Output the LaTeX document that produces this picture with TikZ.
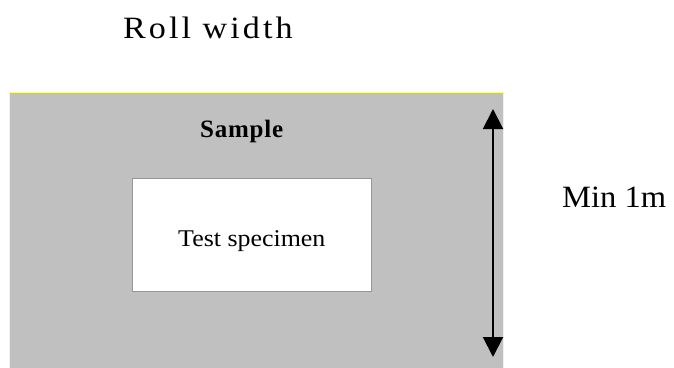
\documentclass[tikz,border=0pt]{standalone}
\usepackage{fontspec}
\usepackage{graphicx}
\setmainfont{Liberation Serif}
\newfontfamily\rollfont[LetterSpace=9]{Liberation Serif}
\newfontfamily\testfont[LetterSpace=0]{Liberation Serif}
\newfontfamily\minfont[LetterSpace=0]{Liberation Serif}
\newfontfamily\samplefont[LetterSpace=3]{Liberation Serif}
\usetikzlibrary{arrows.meta}
\definecolor{samplegray}{RGB}{192,192,192}
\definecolor{edgeyellow}{RGB}{255,255,120}
\definecolor{boxedge}{RGB}{150,150,150}
\tikzset{
  lbl/.style={anchor=base west, inner sep=0pt, text=black},
  dimarrow/.style={line width=2pt, {Triangle[width=20pt,length=20pt]}-{Triangle[width=20pt,length=20pt]}}
}
\begin{document}
\begin{tikzpicture}[x=1pt,y=-1pt]
\useasboundingbox (0,0) rectangle (674,367);
\fill[samplegray] (9,92) rectangle (503,370);
\draw[edgeyellow, line width=1pt] (9,370) -- (9,92) -- (503,92) -- (503,370);
\node[draw=boxedge, fill=white, line width=1pt, minimum width=239pt, minimum height=113pt, anchor=north west, inner sep=0pt] (spec) at (132,178) {};
\node[lbl] (roll) at (123,38) {\scalebox{1.1}[1]{\fontsize{31}{37}\rollfont Roll width}};
\node[lbl] (sample) at (200,137) {\fontsize{25}{30}\samplefont\bfseries Sample};
\node[lbl] (test) at (178,246) {\scalebox{1.08}[1]{\fontsize{24}{29}\testfont Test specimen}};
\node[lbl] (min) at (562,207) {\scalebox{1.05}[1]{\fontsize{31}{37}\minfont Min 1m}};
\coordinate (atop) at (493,109);
\coordinate (abot) at (493,357);
\draw[dimarrow] (atop) -- (abot);
\end{tikzpicture}
\end{document}
